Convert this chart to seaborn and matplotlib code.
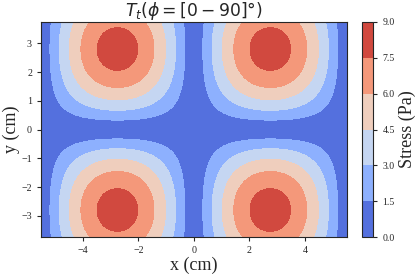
import numpy as np
import matplotlib
matplotlib.use("Agg")
import matplotlib.pyplot as plt
import seaborn as sns

sns.set_style("ticks")
plt.rcParams["font.family"] = ["Liberation Serif", "DejaVu Serif"]
plt.rcParams["mathtext.fontset"] = "dejavusans"

# Field: |sin * sin| cells, peak about 8.2 Pa
x_range = [-5.5, 5.5]
y_range = [-3.75, 3.75]
period_x = 5.5
period_y = 5.6
amplitude = 8.2
levels = [0.0, 1.5, 3.0, 4.5, 6.0, 7.5, 9.0]
x_ticks = [-4, -2, 0, 2, 4]
y_ticks = [-3, -2, -1, 0, 1, 2, 3]

x = np.linspace(x_range[0], x_range[1], 500)
y = np.linspace(y_range[0], y_range[1], 400)
X, Y = np.meshgrid(x, y)
stress = amplitude * np.abs(np.sin(np.pi * X / period_x) * np.sin(np.pi * Y / period_y))

cmap = sns.color_palette("coolwarm", as_cmap=True)

fig = plt.figure(figsize=(4.15, 2.77), dpi=100)
ax = fig.add_axes([0.0988, 0.1433, 0.7366, 0.7783])
cax = fig.add_axes([0.873, 0.1433, 0.0265, 0.7783])

cs = ax.contourf(X, Y, stress, levels=levels, cmap=cmap)
ax.set_xlim(x_range)
ax.set_ylim(y_range)
ax.set_xticks(x_ticks)
ax.set_yticks(y_ticks)
ax.tick_params(labelsize=7.2, length=3, width=0.8)
ax.set_xlabel("x (cm)", fontsize=13, labelpad=1)
ax.set_ylabel("y (cm)", fontsize=13, labelpad=1)
ax.set_title(r"$T_t(\phi=[0-90]°)$", fontsize=12.3, pad=3)
for s in ax.spines.values():
    s.set_linewidth(0.8)

cb = fig.colorbar(cs, cax=cax, ticks=levels)
cb.ax.tick_params(labelsize=7, length=3, width=0.8)
cb.set_label("Stress (Pa)", fontsize=13, labelpad=3)
cb.outline.set_linewidth(0.8)

fig.savefig("out.png", dpi=100)
